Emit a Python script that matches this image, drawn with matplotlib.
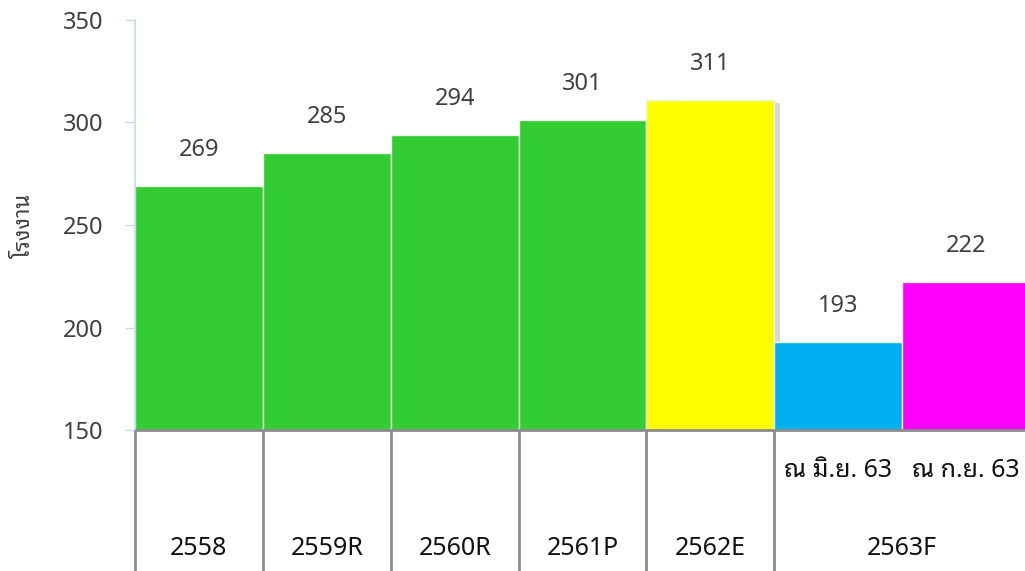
import matplotlib
matplotlib.use("Agg")
import matplotlib.pyplot as plt
import matplotlib.patheffects as pe

plt.rcParams['font.family'] = ['Noto Sans', 'Noto Sans Thai Looped', 'DejaVu Sans']

years = ["2558", "2559R", "2560R", "2561P", "2562E", "2563F", "2563F"]
values = [269, 285, 294, 301, 311, 193, 222]
colors = ["#33cc33", "#33cc33", "#33cc33", "#33cc33", "#ffff00", "#00b0f0", "#ff00ff"]
sub_labels = ["", "", "", "", "", "ณ มิ.ย. 63", "ณ ก.ย. 63"]
y_label = "โรงงาน"
base = 150

fig = plt.figure(figsize=(10.25, 5.71), dpi=100)
ax = fig.add_axes([0.1317, 0.2469, 0.8683, 0.7181])

x = list(range(len(values)))
bars = ax.bar(x, [v - base for v in values], bottom=base, width=1.0,
              color=colors, edgecolor="#e8f4e8", linewidth=1, zorder=2)
# soft shadow on the highlighted bar
bars[4].set_path_effects([pe.SimplePatchShadow(offset=(4, -2), shadow_rgbFace="#b0b0b0", alpha=0.5),
                          pe.Normal()])

for xi, v in zip(x, values):
    ax.annotate(str(v), (xi, v), xytext=(0, 26), textcoords="offset points",
                ha="center", va="center", fontsize=17, color="#404040")

ax.set_xlim(-0.5, 6.46)
ax.set_ylim(base, 350)
ax.set_yticks([150, 200, 250, 300, 350])
ax.tick_params(axis="y", colors="#c6d9f0", labelcolor="#404040", labelsize=17,
               length=7, width=1, pad=16)
ax.set_xticks([])
for s in ["top", "right", "bottom"]:
    ax.spines[s].set_visible(False)
ax.spines["left"].set_color("#c6d9f0")
ax.spines["left"].set_linewidth(1.2)

ax.set_ylabel(y_label, fontsize=16, color="#404040", labelpad=20)

# table under the axis
trans = ax.get_xaxis_transform()
ax.plot([-0.5, 6.5], [0, 0], transform=trans, color="#8c8c8c", lw=2,
        clip_on=False, zorder=3, solid_capstyle="butt")
for edge in [-0.5, 0.5, 1.5, 2.5, 3.5, 4.5]:
    ax.plot([edge, edge], [0, -0.35], transform=trans, color="#8c8c8c", lw=2,
            clip_on=False, zorder=3, solid_capstyle="butt")

for xi, s in zip(x, sub_labels):
    if s:
        ax.text(xi, -0.098, s, transform=trans, ha="center", va="center",
                fontsize=18, color="#111111")

seen = []
for xi, y in zip(x, years):
    if y in seen:
        continue
    seen.append(y)
    pos = [i for i, yy in zip(x, years) if yy == y]
    ax.text(sum(pos) / len(pos), -0.288, y, transform=trans, ha="center", va="center",
            fontsize=18, color="#111111")

fig.savefig("out.png")
